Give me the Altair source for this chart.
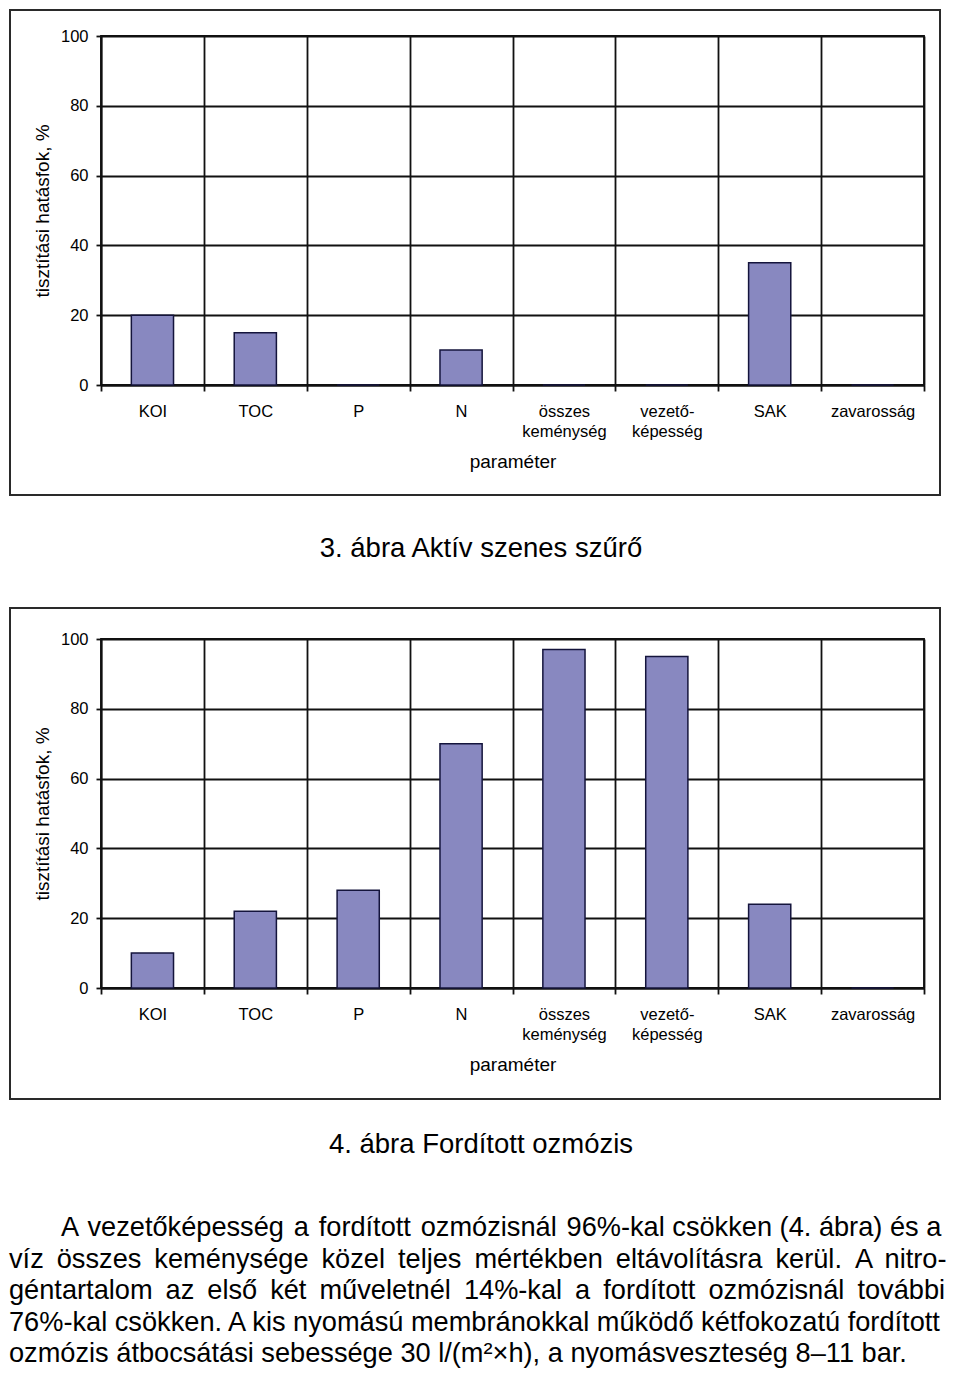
import altair as alt
import pandas as pd

# ---------------- data ----------------
categories = ["KOI", "TOC", "P", "N", "összes\nkeménység", "vezető-\nképesség", "SAK", "zavarosság"]
values_fig3 = [20, 15, 0, 10, 0, 0, 35, 0]      # 3. ábra – aktív szenes szűrő
values_fig4 = [10, 22, 28, 70, 97, 95, 24, 0]   # 4. ábra – fordított ozmózis
y_ticks = [0, 20, 40, 60, 80, 100]
y_title = "tisztítási hatásfok, %"
x_title = "paraméter"
caption_fig3 = "3. ábra Aktív szenes szűrő"
caption_fig4 = "4. ábra Fordított ozmózis"
paragraph_lines = [
    "A vezetőképesség a fordított ozmózisnál 96%-kal csökken (4. ábra) és a",
    "víz összes keménysége közel teljes mértékben eltávolításra kerül. A nitro-",
    "géntartalom az első két műveletnél 14%-kal a fordított ozmózisnál további",
    "76%-kal csökken. A kis nyomású membránokkal működő kétfokozatú fordított",
    "ozmózis átbocsátási sebessége 30 l/(m²×h), a nyomásveszteség 8–11 bar.",
]

# ---------------- style / layout ----------------
FONT = "Liberation Sans"
W, H = 823, 349
BAR_FILL = "#8888c0"
BAR_STROKE = "#14143c"
LINE = "#111111"
HAIR, THIN = "\u200a", "\u2009"
# (gap string, how many gaps widened) per line – approximates the justified setting
line_gaps = [(" " + HAIR, 5), (" " + THIN, -1), (" " + THIN, -1), (" ", -1), (" ", -1)]
line_x = [-40, -92, -92, -92, -92]
PARA_SIZE = 27.2
para_base = 597
para_step = 31.6
one = pd.DataFrame({"k": [0]})


def bars_layer(values):
    df = pd.DataFrame({"parameter": categories, "value": values})
    return alt.Chart(df).mark_bar(
        width={"band": 0.41}, color=BAR_FILL, stroke=BAR_STROKE, strokeWidth=1.5
    ).encode(
        x=alt.X(
            "parameter:N",
            sort=categories,
            scale=alt.Scale(paddingInner=0, paddingOuter=0),
            axis=alt.Axis(
                title=x_title,
                labelAngle=0,
                labelExpr="split(datum.label, '\\n')",
                labelLineHeight=20,
                labelPadding=12,
                tickSize=6,
                tickBand="extent",
                grid=True,
                titleX=W / 2,
                titleY=82,
                titleAlign="center",
                titleBaseline="alphabetic",
            ),
        ),
        y=alt.Y(
            "value:Q",
            scale=alt.Scale(domain=[0, 100], nice=False),
            axis=alt.Axis(
                values=y_ticks,
                title=y_title,
                tickSize=5,
                labelPadding=8,
                labelFlush=False,
                grid=True,
                titleX=-53,
                titleY=H / 2,
                titleAlign="center",
                titleBaseline="alphabetic",
            ),
        ),
    )


def rect_layer(x1, x2, y1, y2, visible=True):
    if visible:
        mark = alt.Chart(one).mark_rect(fillOpacity=0, stroke="#2a2a2a", strokeWidth=2)
    else:
        mark = alt.Chart(one).mark_rect(opacity=0)
    return mark.encode(
        x=alt.value(x1), x2=alt.value(x2), y=alt.value(y1), y2=alt.value(y2)
    )


def text_layer(txt, x, y, size, align="center"):
    return alt.Chart(pd.DataFrame({"t": [txt]})).mark_text(
        font=FONT, fontSize=size, align=align, baseline="alphabetic", color="black"
    ).encode(text="t:N", x=alt.value(x), y=alt.value(y))


chart3 = alt.layer(
    rect_layer(-91, 839, -26, 459),
    rect_layer(0, 10, 0, 569, visible=False),
    bars_layer(values_fig3),
    text_layer(caption_fig3, 380, 521, 27.5),
).properties(width=W, height=H)

para_layers = [
    text_layer(line.replace(" ", line_gaps[i][0], line_gaps[i][1]), line_x[i],
               para_base + i * para_step, PARA_SIZE, align="left")
    for i, line in enumerate(paragraph_lines)
]

chart4 = alt.layer(
    rect_layer(-91, 839, -31, 460),
    bars_layer(values_fig4),
    text_layer(caption_fig4, 380, 514, 27.5),
    *para_layers,
).properties(width=W, height=H)

chart = alt.vconcat(chart3, chart4, spacing=0).properties(
    padding=0, background="white"
).configure(
    font=FONT
).configure_view(
    stroke=LINE, strokeWidth=1.8
).configure_axis(
    domainColor=LINE,
    domainWidth=1.8,
    gridColor=LINE,
    gridWidth=1.8,
    gridOpacity=1,
    tickColor=LINE,
    tickWidth=1.8,
    labelColor="black",
    titleColor="black",
    labelFont=FONT,
    titleFont=FONT,
    labelFontSize=16.5,
    titleFontSize=19,
    titleFontWeight="normal",
    labelOverlap=False,
)

chart.save("out.html", embed_options={"renderer": "svg", "actions": False})
